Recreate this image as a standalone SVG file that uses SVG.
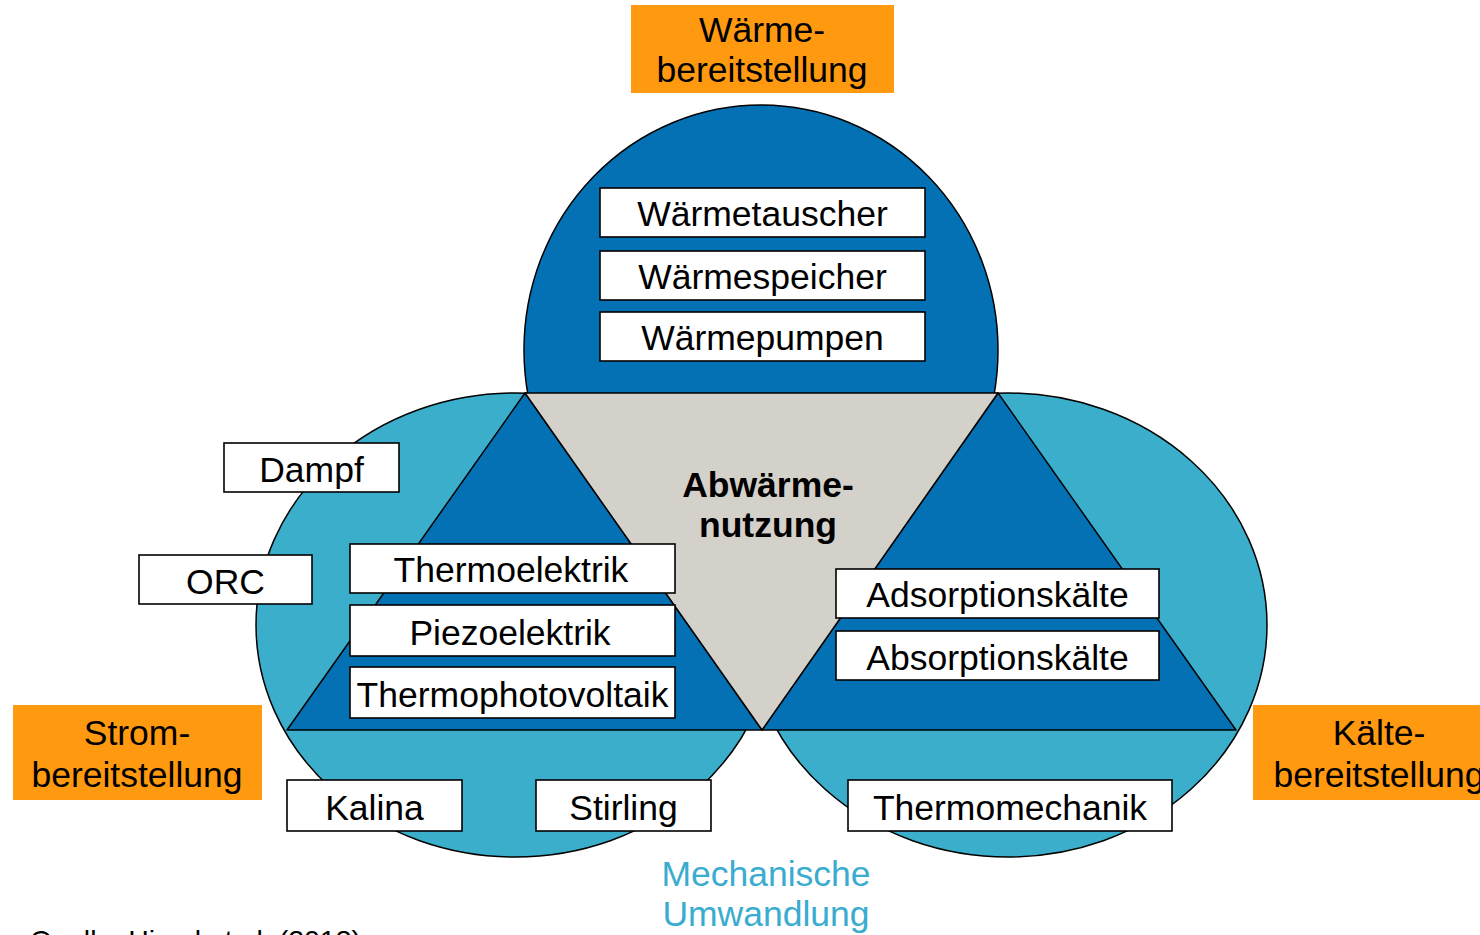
<svg xmlns="http://www.w3.org/2000/svg" width="1480" height="935" viewBox="0 0 1480 935">
<style>
text{font-family:"Liberation Sans",Arial,sans-serif;font-size:35.5px;text-anchor:middle;fill:#000}
.box{fill:#fff;stroke:#000;stroke-width:1.6}
.orange{fill:#FF990F}
.dark{fill:#0571B5;stroke:#000;stroke-width:1.5;stroke-linejoin:round}
.light{fill:#3BAECB;stroke:#000;stroke-width:1.5}
.gray{fill:#D4D1CA;stroke:#000;stroke-width:1.5;stroke-linejoin:round}
.mech{fill:#3AACCF}
</style>
<rect width="1480" height="935" fill="#fff"/>
<g id="circles">
<ellipse id="circle-strom" class="light" cx="515" cy="625" rx="259" ry="232"/>
<ellipse id="circle-kaelte" class="light" cx="1008" cy="625" rx="259" ry="232"/>
<ellipse id="circle-waerme" class="dark" cx="761" cy="350" rx="237" ry="245"/>
</g>
<g id="triangles">
<polygon id="tri-left" class="dark" points="525,393 287,730 762,730"/>
<polygon id="tri-right" class="dark" points="998,393 762,730 1236,730"/>
<polygon id="tri-center" class="gray" points="525,393 998,393 762,730"/>
</g>
<g id="connectors"></g>
<g id="center-label">
<text x="768" y="497" font-weight="bold">Abwärme-</text>
<text x="768" y="537" font-weight="bold">nutzung</text>
</g>
<g id="waermebereitstellung">
<rect class="orange" x="631" y="5" width="263" height="88"/>
<text x="762" y="42">Wärme-</text>
<text x="762" y="82">bereitstellung</text>
</g>
<g id="strombereitstellung">
<rect class="orange" x="13" y="705" width="249" height="95"/>
<text x="137" y="745">Strom-</text>
<text x="137" y="787">bereitstellung</text>
</g>
<g id="kaeltebereitstellung">
<rect class="orange" x="1253" y="705" width="252" height="95"/>
<text x="1379" y="745">Kälte-</text>
<text x="1379" y="787">bereitstellung</text>
</g>
<g id="mechanische-umwandlung">
<text class="mech" x="766" y="886">Mechanische</text>
<text class="mech" x="766" y="926">Umwandlung</text>
</g>
<g id="waermetauscher"><rect class="box" x="600" y="188" width="325" height="49"/><text x="762.5" y="226">Wärmetauscher</text></g>
<g id="waermespeicher"><rect class="box" x="600" y="251" width="325" height="49"/><text x="762.5" y="289">Wärmespeicher</text></g>
<g id="waermepumpen"><rect class="box" x="600" y="312" width="325" height="49"/><text x="762.5" y="350">Wärmepumpen</text></g>
<g id="dampf"><rect class="box" x="224" y="443" width="175" height="49"/><text x="311.5" y="482">Dampf</text></g>
<g id="orc"><rect class="box" x="139" y="555" width="173" height="49"/><text x="225.5" y="594">ORC</text></g>
<g id="thermoelektrik"><rect class="box" x="350" y="544" width="325" height="49"/><text x="511" y="582">Thermoelektrik</text></g>
<g id="piezoelektrik"><rect class="box" x="350" y="605" width="325" height="51"/><text x="510" y="645">Piezoelektrik</text></g>
<g id="thermophotovoltaik"><rect class="box" x="350" y="667" width="325" height="51"/><text x="512.5" y="707">Thermophotovoltaik</text></g>
<g id="adsorptionskaelte"><rect class="box" x="836" y="569" width="323" height="49"/><text x="997.5" y="607">Adsorptionskälte</text></g>
<g id="absorptionskaelte"><rect class="box" x="836" y="631" width="323" height="49"/><text x="997.5" y="670">Absorptionskälte</text></g>
<g id="kalina"><rect class="box" x="287" y="780" width="175" height="51"/><text x="374.5" y="820">Kalina</text></g>
<g id="stirling"><rect class="box" x="536" y="780" width="175" height="51"/><text x="623.5" y="820">Stirling</text></g>
<g id="thermomechanik"><rect class="box" x="848" y="780" width="324" height="51"/><text x="1010" y="820">Thermomechanik</text></g>
<g id="source">
<text x="30" y="950" style="font-size:28.5px;text-anchor:start">Quelle: Hirzel et al. (2013)</text>
</g>
</svg>
